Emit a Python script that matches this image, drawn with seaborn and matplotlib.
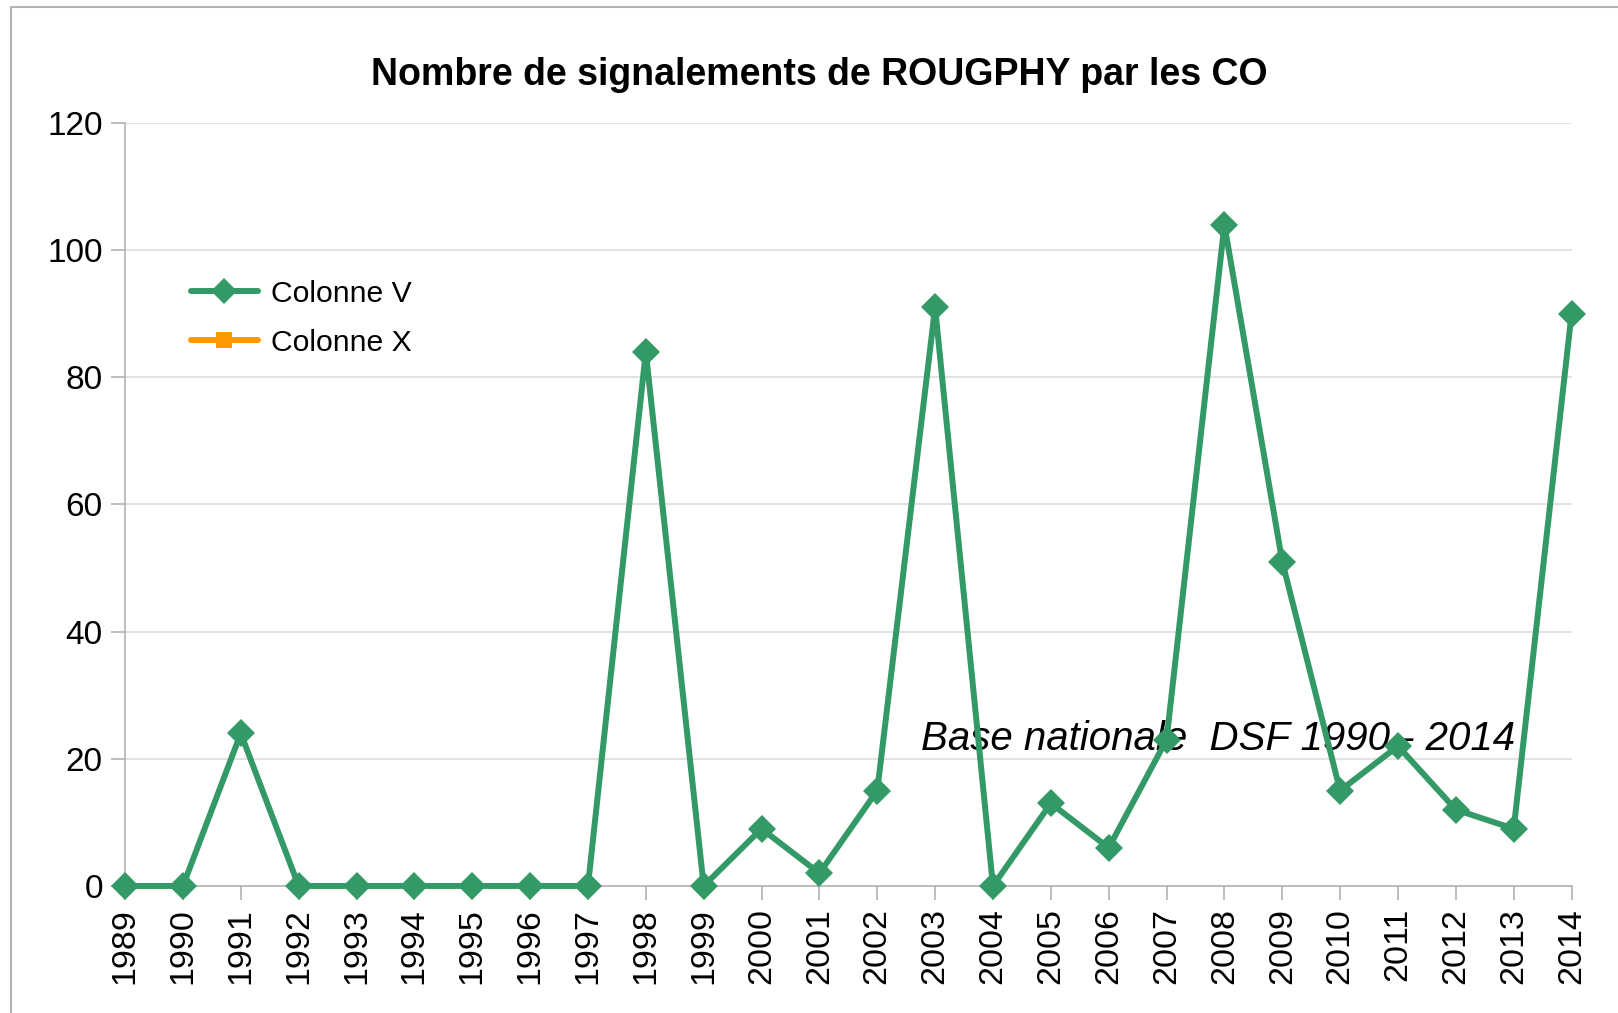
import numpy as np
import pandas as pd
import seaborn as sns
import matplotlib.pyplot as plt
from matplotlib.lines import Line2D
from matplotlib.patches import Rectangle

# donnees
annees = [str(a) for a in range(1989, 2015)]
colonne_v = [0, 0, 24, 0, 0, 0, 0, 0, 0, 84, 0, 9, 2, 15, 91, 0, 13, 6, 23, 104, 51, 15, 22, 12, 9, 90]
colonne_x = [np.nan] * len(annees)
y_ticks = [0, 20, 40, 60, 80, 100, 120]

vert = '#339966'
orange = '#ff9900'

sns.set_theme(style='white')
plt.rcParams['font.family'] = ['Liberation Sans', 'DejaVu Sans']
plt.rcParams['text.color'] = 'black'

df = pd.DataFrame({'idx': np.arange(len(annees)), 'V': colonne_v, 'X': colonne_x})

fig = plt.figure(figsize=(16.18, 10.13), dpi=100)
ax = fig.add_axes([0.0773, 0.1254, 0.894, 0.7532])

sns.lineplot(data=df, x='idx', y='V', ax=ax, color=vert, linewidth=4.3,
             marker='D', markersize=14, markeredgewidth=0, label='Colonne V', clip_on=False, zorder=5)
if df['X'].notna().any():
    sns.lineplot(data=df, x='idx', y='X', ax=ax, color=orange, linewidth=4.3,
                 marker='s', markersize=12, markeredgewidth=0, label='Colonne X', clip_on=False)

ax.set_xlim(0, len(annees) - 1)
ax.set_ylim(0, 120)
ax.set_xticks(np.arange(len(annees)))
ax.set_xticklabels(annees, rotation=90, fontsize=24.5)
ax.set_yticks(y_ticks)
ax.set_yticklabels([str(t) for t in y_ticks], fontsize=24)
ax.set_xlabel('')
ax.set_ylabel('')

ax.grid(axis='y', color='#dddddd', linewidth=1.2)
ax.grid(axis='x', visible=False)
ax.set_axisbelow(True)
for s in ['top', 'right']:
    ax.spines[s].set_visible(False)
for s in ['left', 'bottom']:
    ax.spines[s].set_color('#b3b3b3')
    ax.spines[s].set_linewidth(1.2)
ax.tick_params(axis='both', which='major', length=10, width=1.2, color='#b3b3b3',
               direction='out', bottom=True, left=True, pad=6, labelcolor='black')

# legende
handles = [Line2D([], [], color=vert, linewidth=4.3, marker='D', markersize=13, markeredgewidth=0),
           Line2D([], [], color=orange, linewidth=4.3, marker='s', markersize=12, markeredgewidth=0)]
ax.legend(handles, ['Colonne V', 'Colonne X'], loc='upper left', bbox_to_anchor=(0.027, 0.83),
          frameon=False, fontsize=21.7, handlelength=2.2, labelspacing=0.7, handletextpad=0.45)

fig.suptitle('Nombre de signalements de ROUGPHY par les CO', x=0.5064, y=1 - 75 / 1013,
             va='center', fontsize=27, fontweight='bold', color='black')

ax.text(13.75, 23.1, 'Base nationale  DSF 1990 - 2014', fontsize=29, style='italic',
        va='center', ha='left', color='black')

# cadre exterieur
fig.add_artist(Rectangle((11 / 1618, -0.05), 1.1, 1.05 - 7 / 1013, transform=fig.transFigure,
                         fill=False, edgecolor='#b3b3b3', linewidth=1.5))

fig.savefig('out.png', dpi=100)
